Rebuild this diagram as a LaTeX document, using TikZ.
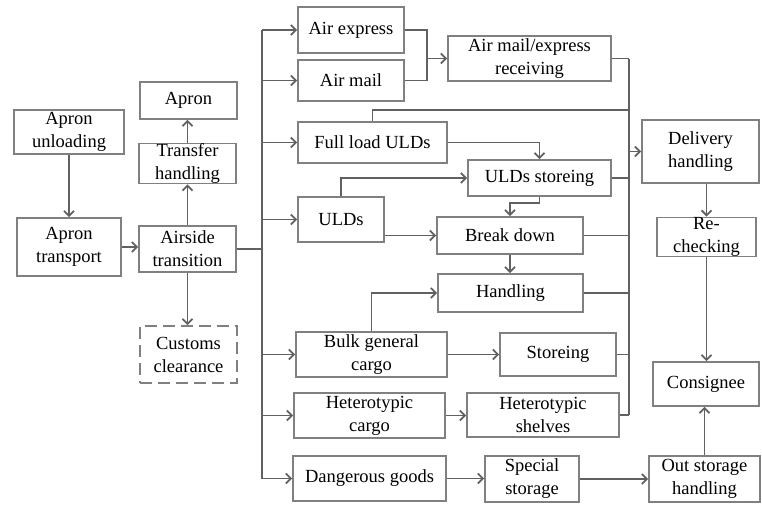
\documentclass[tikz,border=0pt]{standalone}
\usepackage{fontspec}
\setmainfont{Liberation Serif}
\usetikzlibrary{arrows.meta}
\begin{document}
\begin{tikzpicture}[x=1pt,y=-1pt,
  box/.style={draw=black!50, line width=1.8pt, fill=white, inner sep=0pt, align=center,
    font=\fontsize{18.5}{23}\selectfont, text=black},
  ln/.style={draw=black!62, line width=1.8pt},
  arr/.style={ln, -{Straight Barb[length=5pt,width=10pt]}}]
\useasboundingbox (0,0) rectangle (762,504);

% left column
\node[box, minimum width=110pt, minimum height=44pt] (unload) at (69,132) {Apron\\unloading};
\node[box, minimum width=104pt, minimum height=58pt] (transport) at (69,247) {Apron\\transport};
\node[box, minimum width=97pt, minimum height=37pt] (apron) at (188.5,100.5) {Apron};
\node[box, minimum width=97pt, minimum height=39pt] (transfer) at (187.5,163.5) {Transfer\\handling};
\node[box, minimum width=97pt, minimum height=46pt] (airside) at (187.5,249) {Airside\\transition};
\node[box, minimum width=97pt, minimum height=57pt, dash pattern=on 12pt off 6pt] (customs) at (188.5,354.5) {Customs\\clearance};

% middle column
\node[box, minimum width=106pt, minimum height=46pt] (express) at (351,30) {Air express};
\node[box, minimum width=106pt, minimum height=41pt] (mail) at (351,80.5) {Air mail};
\node[box, minimum width=149pt, minimum height=41pt] (fullload) at (372.5,142.5) {Full load ULDs};
\node[box, minimum width=86pt, minimum height=45pt] (ulds) at (341,219.5) {ULDs};
\node[box, minimum width=151pt, minimum height=45pt] (bulk) at (371.5,354.5) {Bulk general\\cargo};
\node[box, minimum width=151pt, minimum height=45pt] (hcargo) at (369.5,415.5) {Heterotypic\\cargo};
\node[box, minimum width=153pt, minimum height=45pt] (dangerous) at (369.5,478.5) {Dangerous goods};

% second middle column
\node[box, minimum width=163pt, minimum height=45pt] (receiving) at (529.5,58.5) {Air mail/express\\receiving};
\node[box, minimum width=143pt, minimum height=36pt] (uldstore) at (539.5,178) {\raisebox{4pt}{ULDs storeing}};
\node[box, minimum width=146pt, minimum height=37pt] (breakdown) at (510,235.5) {Break down};
\node[box, minimum width=145pt, minimum height=38pt] (handling) at (510.5,293) {Handling};
\node[box, minimum width=116pt, minimum height=43pt] (storeing) at (558,354.5) {Storeing};
\node[box, minimum width=152pt, minimum height=44pt] (hshelves) at (543,415) {Heterotypic\\shelves};
\node[box, minimum width=94pt, minimum height=46pt] (special) at (532,479) {Special\\storage};

% right column
\node[box, minimum width=117pt, minimum height=63pt] (delivery) at (700.5,151.5) {Delivery\\handling};
\node[box, minimum width=99pt, minimum height=38pt] (recheck) at (706.5,237) {Re-\\checking};
\node[box, minimum width=106pt, minimum height=44pt] (consignee) at (706,384) {Consignee};
\node[box, minimum width=111pt, minimum height=46pt] (outstorage) at (704.5,479) {Out storage\\handling};

% helper coordinates
\coordinate (tt) at (262,30);
\coordinate (tb) at (262,478.5);
\coordinate (jx) at (427,58.5);
\coordinate (bt) at (629,58.5);
\coordinate (bb) at (629,415);
\coordinate (fltop) at (629,110);

% left connectors
\draw[arr] (unload) -- (transport);
\draw[arr] (transport.east) -- (transport.east -| airside.west);
\draw[arr] (airside.north) -- (transfer.south);
\draw[arr] (transfer.north) -- (transfer.north |- apron.south);
\draw[arr] (airside.south) -- (airside.south |- customs.north);

% trunk
\draw[ln] (airside.east) -- (tt |- airside.east);
\draw[ln] (tt) -- (tb);
\foreach \n in {express,mail,fullload,ulds,bulk,hcargo,dangerous}
  \draw[arr] (tt |- \n.west) -- (\n.west);

% air express / mail
\draw[ln] (express.east) -| (jx);
\draw[ln] (mail.east) -| (jx);
\draw[arr] (jx) -- (receiving.west);

% ULD flows
\draw[ln] (fullload.north) -- (fullload.north |- fltop) -- (fltop);
\draw[arr] (fullload.east) -| (uldstore.north);
\draw[arr] (ulds.north) |- (uldstore.west);
\draw[arr] (uldstore.south) -- ++(0,6) -| (breakdown.north);
\draw[arr] (ulds.east |- breakdown.west) -- (breakdown.west);
\draw[arr] (breakdown.south) -- (breakdown.south |- handling.north);
\draw[arr] (bulk.north) |- (handling.west);
\draw[arr] (bulk.east) -- (bulk.east -| storeing.west);
\draw[arr] (hcargo.east) -- (hcargo.east -| hshelves.west);
\draw[arr] (dangerous.east) -- (dangerous.east -| special.west);
\draw[arr] (special.east) -- (special.east -| outstorage.west);

% right bus
\draw[ln] (receiving.east) -- (bt);
\draw[ln] (bt) -- (bb);
\foreach \n in {uldstore,breakdown,handling,storeing,hshelves}
  \draw[ln] (\n.east) -- (\n.east -| bt);
\draw[arr] (bt |- delivery.west) -- (delivery.west);

% right column connectors
\draw[arr] (recheck.north |- delivery.south) -- (recheck.north);
\draw[arr] (recheck.south) -- (recheck.south |- consignee.north);
\draw[arr] (outstorage.north) -- (outstorage.north |- consignee.south);
\end{tikzpicture}
\end{document}
